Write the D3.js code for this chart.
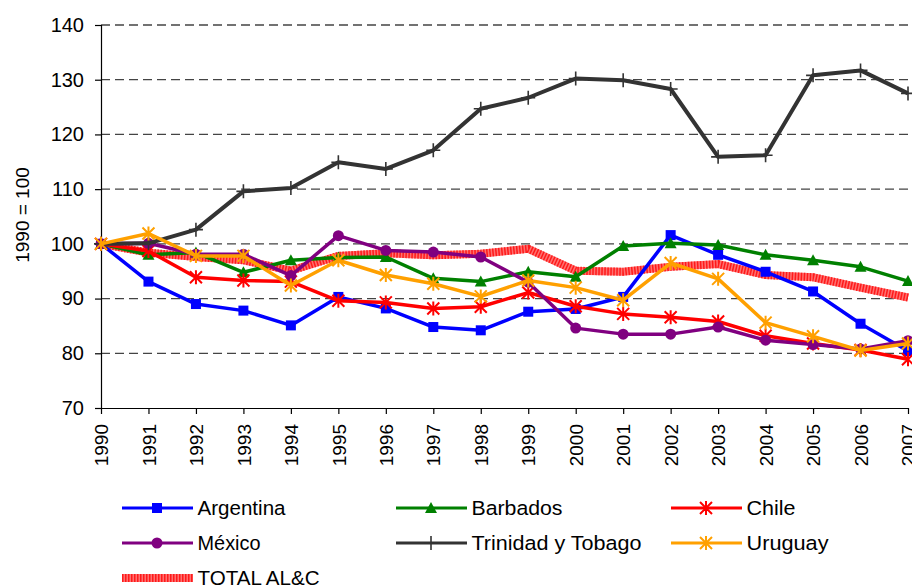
<!DOCTYPE html>
<html>
<head>
<meta charset="utf-8">
<script src="https://cdn.jsdelivr.net/npm/d3@7"></script>
<style>
  html,body{margin:0;padding:0;background:#fff}
  svg{display:block}
</style>
</head>
<body>
<div id="chart"></div>
<script>
// index 1990 = 100
var years=[1990,1991,1992,1993,1994,1995,1996,1997,1998,1999,2000,2001,2002,2003,2004,2005,2006,2007];
var argentina=[100,93.1,89.0,87.8,85.1,90.3,88.2,84.8,84.2,87.6,88.1,90.3,101.6,98.0,94.9,91.3,85.4,80.4];
var barbados=[100,98.0,98.4,94.8,97.0,97.5,97.6,93.7,93.1,94.9,94.0,99.6,100.1,99.8,98.0,97.0,95.8,93.2];
var chile=[100,98.7,93.9,93.3,93.1,89.6,89.3,88.2,88.5,91.1,88.6,87.2,86.6,85.8,83.2,81.8,80.6,78.9];
var mexico=[100,100.1,98.1,98.1,94.2,101.5,98.8,98.5,97.6,93.0,84.6,83.5,83.5,84.8,82.4,81.6,80.8,82.3];
var trinidad=[100,100.1,102.6,109.6,110.2,114.9,113.7,117.1,124.7,126.7,130.2,129.9,128.3,115.9,116.2,130.8,131.7,127.5];
var uruguay=[100,101.9,97.8,97.8,92.4,97.0,94.3,92.7,90.4,93.3,92.0,89.7,96.5,93.6,85.6,83.1,80.5,81.8];
var totalALC=[100,98.4,97.6,97.0,95.1,97.8,98.3,97.9,98.2,99.1,95.1,94.9,95.8,96.3,94.3,93.9,92.0,90.2];
var yTicks=[70,80,90,100,110,120,130,140];
var gridTicks=[80,90,100,110,120,130,140];

var W=912,H=585;
var F='"Liberation Sans",Arial,Helvetica,sans-serif';
var svg=d3.select('#chart').append('svg').attr('width',W).attr('height',H);

var x=d3.scaleLinear().domain([1990,2007]).range([101,908]);
var y=d3.scaleLinear().domain([70,140]).range([408,25]);

// dashed grid
svg.append('g').selectAll('line').data(gridTicks).enter().append('line')
  .attr('x1',101).attr('x2',908).attr('y1',function(d){return y(d)}).attr('y2',function(d){return y(d)})
  .attr('stroke','#444').attr('stroke-width',1.3).attr('stroke-dasharray','9,5');

// y axis
var yAx=svg.append('g').attr('transform','translate(101,0)')
  .call(d3.axisLeft(y).tickValues(yTicks).tickSize(6).tickPadding(11).tickFormat(d3.format('d')));
yAx.select('.domain').attr('stroke','#000').attr('stroke-width',1.2);
yAx.selectAll('.tick line').attr('stroke','#000').attr('stroke-width',1.2);
yAx.selectAll('text').attr('font-family',F).attr('font-size',20).attr('fill','#000');

// x axis
var xAx=svg.append('g').attr('transform','translate(0,408)')
  .call(d3.axisBottom(x).tickValues(years).tickSize(6).tickSizeOuter(0).tickFormat(d3.format('d')));
xAx.select('.domain').attr('stroke','#000').attr('stroke-width',1.2);
xAx.selectAll('.tick line').attr('stroke','#000').attr('stroke-width',1.2);
xAx.selectAll('text').attr('font-family',F).attr('font-size',19).attr('fill','#000')
  .attr('transform','rotate(-90)').attr('text-anchor','end').attr('dy','0.35em').attr('x',-16).attr('y',0);

// y title
svg.append('text').attr('transform','translate(22,215) rotate(-90)').attr('text-anchor','middle')
  .attr('dominant-baseline','central').attr('font-family',F).attr('font-size',19).text('1990 = 100');

// marker shapes
function mark(g,type,color,cx,cy){
  if(type==='square'){
    g.append('rect').attr('x',cx-5).attr('y',cy-5).attr('width',10).attr('height',10).attr('fill',color);
  }else if(type==='triangle'){
    g.append('path').attr('d','M'+cx+','+(cy-6)+'L'+(cx+6)+','+(cy+5)+'L'+(cx-6)+','+(cy+5)+'Z').attr('fill',color);
  }else if(type==='circle'){
    g.append('circle').attr('cx',cx).attr('cy',cy).attr('r',5.5).attr('fill',color);
  }else if(type==='star'){
    g.append('path').attr('d','M'+cx+','+(cy-7)+'V'+(cy+7)+'M'+(cx-6)+','+(cy-6)+'L'+(cx+6)+','+(cy+6)+'M'+(cx+6)+','+(cy-6)+'L'+(cx-6)+','+(cy+6))
      .attr('stroke',color).attr('stroke-width',2).attr('fill','none');
  }else if(type==='plus'){
    g.append('path').attr('d','M'+cx+','+(cy-7)+'V'+(cy+7)+'M'+(cx-7)+','+cy+'H'+(cx+7))
      .attr('stroke',color).attr('stroke-width',1.6).attr('fill','none');
  }
}

var line=d3.line().x(function(d,i){return x(years[i])}).y(function(d){return y(d)});

function hatched(g,pathD){
  g.append('path').attr('d',pathD).attr('fill','none').attr('stroke','#ff7070').attr('stroke-width',8).attr('stroke-linejoin','miter');
  g.append('path').attr('d',pathD).attr('fill','none').attr('stroke','#ff1a1a').attr('stroke-width',8).attr('stroke-dasharray','1.5,1.5').attr('stroke-linejoin','miter');
}

// total drawn first, under the countries
var gT=svg.append('g');
hatched(gT,line(totalALC));

var series=[
  {name:'Argentina',vals:argentina,color:'#0000ff',m:'square',w:3.5},
  {name:'Barbados',vals:barbados,color:'#008000',m:'triangle',w:3.5},
  {name:'Chile',vals:chile,color:'#ff0000',m:'star',w:3.5},
  {name:'México',vals:mexico,color:'#800080',m:'circle',w:3.5},
  {name:'Trinidad y Tobago',vals:trinidad,color:'#333333',m:'plus',w:4},
  {name:'Uruguay',vals:uruguay,color:'#ffa000',m:'star',w:3.5}
];
series.forEach(function(s){
  var g=svg.append('g');
  g.append('path').attr('d',line(s.vals)).attr('fill','none').attr('stroke',s.color).attr('stroke-width',s.w).attr('stroke-linejoin','round');
  s.vals.forEach(function(v,i){mark(g,s.m,s.color,x(years[i]),y(v))});
});

// legend
var legCols=[122,396,671], legRows=[508,543,578];
var legItems=[
  {s:series[0],c:0,r:0,tl:88},{s:series[1],c:1,r:0,tl:91},{s:series[2],c:2,r:0,tl:49},
  {s:series[3],c:0,r:1,tl:63},{s:series[4],c:1,r:1,tl:170},{s:series[5],c:2,r:1,tl:82},
  {s:null,name:'TOTAL AL&C',c:0,r:2,tl:122}
];
legItems.forEach(function(it){
  var lx=legCols[it.c], ly=legRows[it.r];
  var g=svg.append('g');
  if(it.s){
    g.append('line').attr('x1',lx).attr('x2',lx+71).attr('y1',ly).attr('y2',ly).attr('stroke',it.s.color).attr('stroke-width',3);
    mark(g,it.s.m,it.s.color,lx+35,ly);
  }else{
    hatched(g,'M'+lx+','+ly+'H'+(lx+71));
  }
  g.append('text').attr('x',lx+75.5).attr('y',ly).attr('dy','0.36em').attr('font-family',F).attr('font-size',20.5)
    .attr('textLength',it.tl).attr('lengthAdjust','spacingAndGlyphs').text(it.s?it.s.name:it.name);
});
</script>
</body>
</html>
